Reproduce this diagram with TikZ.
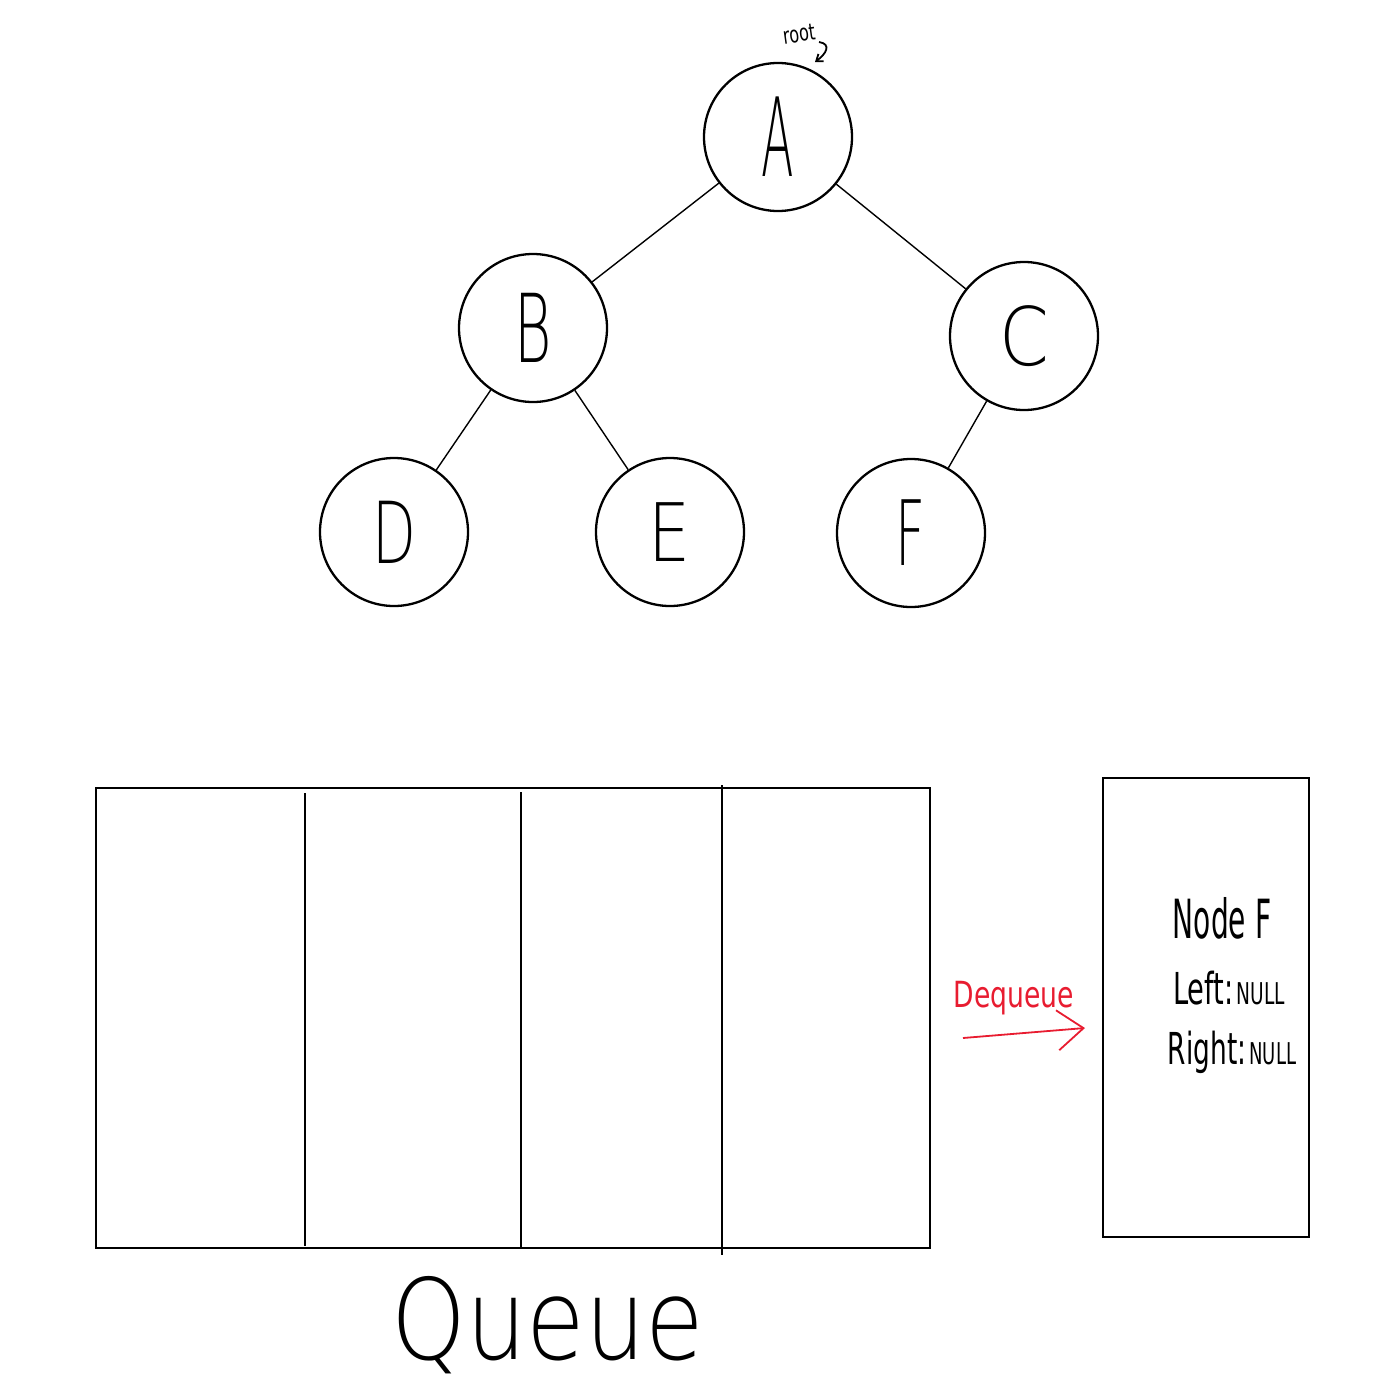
\documentclass[tikz,border=0pt]{standalone}
\usepackage{fontspec}
\usepackage{graphicx}
\setmainfont{DejaVu Sans ExtraLight}
\newfontfamily\regfont{DejaVu Sans}
\usetikzlibrary{arrows.meta}
\definecolor{dqred}{RGB}{232,28,48}
\begin{document}
\begin{tikzpicture}[x=1pt,y=-1pt,
  tnode/.style={circle, draw, line width=2.3pt, minimum size=148pt, inner sep=0pt,
    font=\fontsize{95}{95}\selectfont},
  edge/.style={line width=1.4pt},
  box/.style={draw, line width=2pt},
  plain/.style={inner sep=0pt}]
\useasboundingbox (0,0) rectangle (1378,1395);
% tree
\node[tnode] (A) at (778,137) {\scalebox{0.5}[1.15]{A}};
\node[tnode] (B) at (533,328) {\scalebox{0.6}[1]{B}};
\node[tnode] (C) at (1024,336) {\scalebox{0.75}[0.85]{C}};
\node[tnode] (D) at (394,532) {\scalebox{0.6}[0.9]{D}};
\node[tnode] (E) at (670,532) {\scalebox{0.7}[0.85]{E}};
\node[tnode] (F) at (911,533) {\scalebox{0.55}[0.95]{F}};
\draw[edge] (A) -- (B);
\draw[edge] (A) -- (C);
\draw[edge] (B) -- (D);
\draw[edge] (B) -- (E);
\draw[edge] (C) -- (F);
% root label
\node[plain, font=\regfont\fontsize{23}{23}\selectfont, rotate=8] (root) at (799,34) {\scalebox{0.7}[1]{root}};
\coordinate (rootstart) at (819,42);
\draw[line width=1.8pt, -{Straight Barb[length=6pt,width=9pt]}]
  (rootstart) .. controls (832,44) and (826,54) .. (815,62);
% queue
\node[box, minimum width=834pt, minimum height=460pt, inner sep=0pt] (queue) at (513,1018) {};
\coordinate (d1t) at (305,793); \coordinate (d1b) at (305,1246);
\coordinate (d2t) at (521,792); \coordinate (d2b) at (521,1248);
\coordinate (d3t) at (722,785); \coordinate (d3b) at (722,1255);
\draw[edge] (d1t) -- (d1b);
\draw[edge] (d2t) -- (d2b);
\draw[edge] (d3t) -- (d3b);
\node[plain, font=\fontsize{112}{112}\selectfont] (qlabel) at (548,1325) {\scalebox{0.85}[1]{Queue}};
% node F box
\node[box, minimum width=206pt, minimum height=459pt, inner sep=0pt] (fbox) at (1206,1007.5) {};
\node[plain, font=\regfont\fontsize{54}{54}\selectfont] (nf1) at (1222,918) {\scalebox{0.52}[1]{Node F}};
\node[plain, font=\regfont\fontsize{44}{44}\selectfont] (nf2) at (1229,988) {\scalebox{0.62}[1]{Left:\fontsize{30}{30}\selectfont\,NULL}};
\node[plain, font=\regfont\fontsize{44}{44}\selectfont] (nf3) at (1232,1052) {\scalebox{0.6}[1]{Right:\fontsize{30}{30}\selectfont\,NULL}};
% dequeue
\node[plain, text=dqred, font=\regfont\fontsize{36}{36}\selectfont] (dq) at (1014,998) {\scalebox{0.74}[1]{Dequeue}};
\coordinate (dqs) at (963,1038);
\coordinate (dqe) at (1085,1028);
\draw[dqred, line width=1.8pt, -{Straight Barb[length=26pt,width=40pt]}] (dqs) -- (dqe);
\end{tikzpicture}
\end{document}
